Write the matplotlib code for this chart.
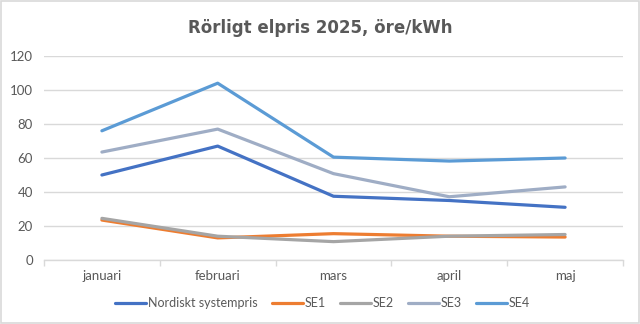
import matplotlib.pyplot as plt
import numpy as np
from matplotlib.patches import Rectangle

months = ["januari", "februari", "mars", "april", "maj"]
nordiskt = [50, 67, 37.5, 35, 31]
se1 = [23.5, 13, 15.5, 14, 13.5]
se2 = [24.5, 14, 10.8, 14, 15]
se3 = [63.5, 77, 50.8, 37.2, 43]
se4 = [76, 104, 60.5, 58.2, 60]

series = [
    ("Nordiskt systempris", nordiskt, "#4472C4"),
    ("SE1", se1, "#ED7D31"),
    ("SE2", se2, "#A5A5A5"),
    ("SE3", se3, "#9FADC5"),
    ("SE4", se4, "#5B9BD5"),
]

text_color = "#595959"
grid_color = "#D9D9D9"

plt.rcParams["font.family"] = ["Lato", "DejaVu Sans"]

fig = plt.figure(figsize=(6.4, 3.24), dpi=100)
ax = fig.add_axes([44 / 640, 64 / 324, 579 / 640, 204 / 324])

x = np.arange(len(months))
for name, vals, color in series:
    ax.plot(x, vals, color=color, linewidth=2.3, label=name, solid_capstyle="round")

ax.set_xlim(-0.5, len(months) - 0.5)
ax.set_ylim(0, 120)
ax.set_yticks(range(0, 121, 20))
ax.set_xticks(x)
ax.set_xticklabels(months)
ax.set_xticks(np.arange(-0.5, len(months), 1), minor=True)

ax.grid(axis="y", color=grid_color, linewidth=1)
ax.set_axisbelow(True)
for side in ["top", "right", "left"]:
    ax.spines[side].set_visible(False)
ax.spines["bottom"].set_color(grid_color)
ax.spines["bottom"].set_linewidth(1)

ax.tick_params(axis="y", length=0, labelsize=9.5, labelcolor=text_color, pad=8)
ax.tick_params(axis="x", which="major", length=0, labelsize=9.5, labelcolor=text_color, pad=7)
ax.tick_params(axis="x", which="minor", length=4, color=grid_color, width=1)

fig.suptitle("Rörligt elpris 2025, öre/kWh", x=0.5, y=0.94, fontsize=12,
             fontweight="bold", color=text_color, family="DejaVu Sans")

leg = fig.legend(loc="center", bbox_to_anchor=(0.504, 0.065), ncol=5, frameon=False,
                 fontsize=9, handlelength=2.5, columnspacing=1.1, handletextpad=0.15)
for t in leg.get_texts():
    t.set_color(text_color)

fig.patches.append(Rectangle((0.001, 0.002), 0.997, 0.995, transform=fig.transFigure,
                             fill=False, edgecolor=grid_color, linewidth=1.2))

fig.savefig("out.png", dpi=100)
